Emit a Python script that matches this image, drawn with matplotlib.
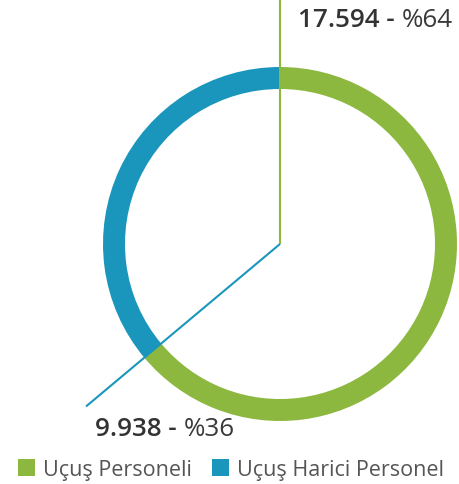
import numpy as np
import matplotlib
matplotlib.use("Agg")
import matplotlib.pyplot as plt
from matplotlib.patches import Rectangle

# data
labels = ["Uçuş Personeli", "Uçuş Harici Personel"]
counts = [17594, 9938]
count_txt = ["17.594", "9.938"]
pct_txt = ["%64", "%36"]
colors = ["#8cb83f", "#1a96bc"]

W, H = 460, 485
fig = plt.figure(figsize=(W / 100, H / 100), dpi=100)
ax = fig.add_axes([0, 0, 1, 1])

cx, cy = 280, H - 245
R = 177
ring = 22

ax.pie(counts, colors=colors, startangle=90, counterclock=False,
       radius=R, center=(cx, cy),
       wedgeprops=dict(width=ring, linewidth=0))

# leader lines: green straight up, blue along the split between slices
frac = counts[0] / sum(counts)
ang = np.deg2rad(90 - 360 * frac)
ax.plot([cx, cx], [cy, H], color=colors[0], lw=1.5, solid_capstyle="butt")
L = 253
ax.plot([cx, cx + L * np.cos(ang)], [cy, cy + L * np.sin(ang)],
        color=colors[1], lw=1.5, solid_capstyle="butt")

ax.set_xlim(0, W)
ax.set_ylim(0, H)
ax.set_aspect("equal")
ax.axis("off")

fam = ["Open Sans", "DejaVu Sans"]
r = fig.canvas.get_renderer()


def two_part(x, y, bold, normal, size):
    t = ax.text(x, y, bold + " - ", fontsize=size, fontweight="semibold",
                color="#333333", family=fam, va="baseline")
    bb = t.get_window_extent(renderer=r)
    x2 = ax.transData.inverted().transform((bb.x1, bb.y0))[0]
    ax.text(x2, y, normal, fontsize=size, color="#3a3a3a", family=fam,
            va="baseline")


two_part(298, H - 27, count_txt[0], pct_txt[0], 18.7)
two_part(95, H - 436, count_txt[1], pct_txt[1], 18.7)

# legend
lx = [18, 212]
for i in range(2):
    ax.add_patch(Rectangle((lx[i], H - 477), 17, 17, color=colors[i], lw=0))
    ax.text(lx[i] + 25, H - 476, labels[i], fontsize=15.5, color="#555555",
            family=fam, va="baseline")

fig.savefig("out.png", dpi=100)
